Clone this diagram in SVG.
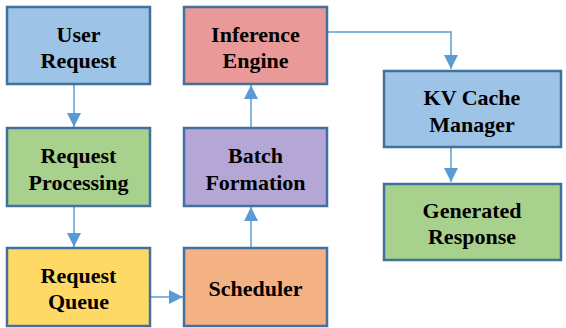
<svg xmlns="http://www.w3.org/2000/svg" width="566" height="328" viewBox="0 0 566 328">
<style>
.box{stroke:#41719C;stroke-width:2.5}
.t{font-family:"Liberation Serif","Times New Roman",serif;font-weight:bold;font-size:22px;fill:#000;text-anchor:middle}
.c{stroke:#5B9BD5;stroke-width:1.5;fill:none}
</style>
<defs>
<marker id="ah" viewBox="0 0 10 10" refX="10" refY="5" markerWidth="14" markerHeight="14" markerUnits="userSpaceOnUse" orient="auto">
<path d="M0,0 L10,5 L0,10 z" fill="#5B9BD5"/>
</marker>
</defs>
<rect width="566" height="328" fill="#fff"/>
<g id="connectors">
<line class="c" x1="74" y1="85" x2="74" y2="127" marker-end="url(#ah)"/>
<line class="c" x1="74" y1="207" x2="74" y2="247" marker-end="url(#ah)"/>
<line class="c" x1="151" y1="297" x2="183" y2="297" marker-end="url(#ah)"/>
<line class="c" x1="251" y1="247" x2="251" y2="207" marker-end="url(#ah)"/>
<line class="c" x1="251" y1="127" x2="251" y2="85" marker-end="url(#ah)"/>
<polyline class="c" points="328,32 451,32 451,69" marker-end="url(#ah)"/>
<line class="c" x1="451" y1="148" x2="451" y2="182" marker-end="url(#ah)"/>
</g>
<g id="user-request">
<rect class="box" x="7" y="7" width="143" height="77" fill="#9DC3E6"/>
<text class="t" x="78.5" y="42">User</text>
<text class="t" x="78.5" y="68">Request</text>
</g>
<g id="request-processing">
<rect class="box" x="7" y="128" width="143" height="78" fill="#A9D18E"/>
<text class="t" x="78.5" y="163">Request</text>
<text class="t" x="78.5" y="190">Processing</text>
</g>
<g id="request-queue">
<rect class="box" x="7" y="248" width="143" height="78" fill="#FFD966"/>
<text class="t" x="78.5" y="283">Request</text>
<text class="t" x="78.5" y="309">Queue</text>
</g>
<g id="inference-engine">
<rect class="box" x="184" y="7" width="143" height="77" fill="#EA9999"/>
<text class="t" x="255.5" y="42">Inference</text>
<text class="t" x="255.5" y="68">Engine</text>
</g>
<g id="batch-formation">
<rect class="box" x="184" y="128" width="143" height="78" fill="#B4A7D6"/>
<text class="t" x="255.5" y="163">Batch</text>
<text class="t" x="255.5" y="190">Formation</text>
</g>
<g id="scheduler">
<rect class="box" x="184" y="248" width="143" height="78" fill="#F4B183"/>
<text class="t" x="255.5" y="296">Scheduler</text>
</g>
<g id="kv-cache-manager">
<rect class="box" x="384" y="71" width="177" height="76" fill="#9DC3E6"/>
<text class="t" x="472" y="105">KV Cache</text>
<text class="t" x="472" y="132">Manager</text>
</g>
<g id="generated-response">
<rect class="box" x="384" y="184" width="177" height="76" fill="#A9D18E"/>
<text class="t" x="472" y="218">Generated</text>
<text class="t" x="472" y="244">Response</text>
</g>
</svg>
